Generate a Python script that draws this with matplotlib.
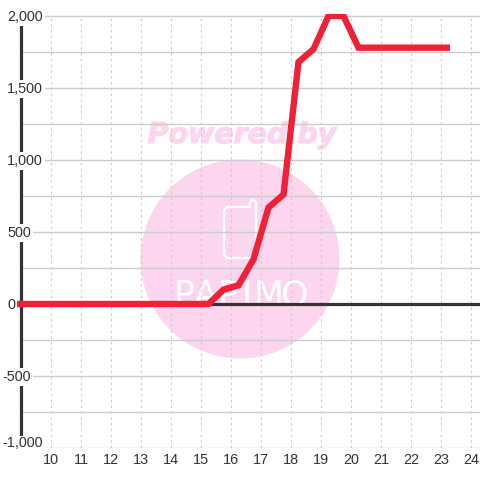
import numpy as np
import matplotlib
matplotlib.use("Agg")
import matplotlib.pyplot as plt
from matplotlib.patches import Circle, PathPatch
from matplotlib.path import Path
import matplotlib.patheffects as pe
from matplotlib.transforms import blended_transform_factory

# values
hours = [8.87, 15.25, 15.75, 16.25, 16.75, 17.25, 17.75, 18.25, 18.75, 19.25, 19.75, 20.25, 21.25, 22.25, 23.3]
values = [0, 0, 100, 130, 310, 670, 760, 1680, 1770, 2000, 2000, 1780, 1780, 1780, 1780]
x_ticks = list(range(10, 25))
y_major = [-1000, -500, 0, 500, 1000, 1500, 2000]
y_minor = [-750, -250, 250, 750, 1250, 1750]
y_labels = ["-1,000", "-500", "0", "500", "1,000", "1,500", "2,000"]
logo_letters = ["P", "A", "P", "I", "M", "O"]
logo_x = [184, 206, 228, 247, 269, 295]

plt.rcParams['font.family'] = ['Liberation Sans', 'DejaVu Sans']
W = 480.0
fig = plt.figure(figsize=(4.8, 4.8), dpi=100)
# axes box in pixels: left 17, right 480, top 14, bottom 448; x=9 sits at 21
ax = fig.add_axes([17 / W, (W - 448) / W, 463 / W, 434 / W])
ax.set_xlim(9 - 4 / 30, 9 + 459 / 30)
ax.set_ylim(-1000, 2000 + 2 / 0.144)
for s in ax.spines.values():
    s.set_visible(False)
ax.set_xticks([])
ax.set_yticks([])

# pixel overlay for the watermark
px = fig.add_axes([0, 0, 1, 1], zorder=-1)
px.set_xlim(0, W)
px.set_ylim(W, 0)
px.axis("off")
ax.patch.set_alpha(0)
pink = "#fcd5ee"
px.add_patch(Circle((240, 259), 99.5, fc=pink, ec="none"))
px.text(242, 135, "Powered by", color=pink, fontsize=20.5, fontweight="bold", fontstyle="italic",
        family="DejaVu Sans", ha="center", va="center",
        path_effects=[pe.withStroke(linewidth=0.8, foreground=pink)])
phone = [(224, 210), (227, 207), (250, 207), (250, 202), (253, 200), (256, 202), (256, 255), (253, 258), (227, 258), (224, 255), (224, 210)]
px.add_patch(PathPatch(Path(phone), fc="none", ec="white", lw=1.7, joinstyle="round"))
for lx, letter in zip(logo_x, logo_letters):
    px.text(lx, 306, letter, color="white", fontsize=25, family="Liberation Sans Narrow",
            ha="center", va="baseline")

grid = "#cccccc"
for x in x_ticks:
    ax.plot([x, x], [-1000, 2000], color=grid, lw=0.8, ls=(0, (2.2, 3)), zorder=1)
for y in y_major + y_minor:
    ax.plot([9, 24.3], [y, y], color=grid, lw=1, zorder=1, solid_capstyle="butt")

# axis lines
ax.plot([9, 9], [-917, 1990], color="#333333", lw=2.3, zorder=2, solid_capstyle="butt")
ax.plot([9, 24.3], [0, 0], color="#333333", lw=2.3, zorder=2, solid_capstyle="butt")

ax.plot(hours, values, color="#f02035", lw=4.6, zorder=3, solid_joinstyle="miter", solid_capstyle="butt")

# tick labels sit on white boxes that cut the axis line
trans = blended_transform_factory(fig.transFigure, ax.transData)
for y, lab in zip(y_major, y_labels):
    left = 2 if lab.startswith("-") else 7
    yy = y - 7
    pad = 1.5
    if y == -1000:
        yy = y + 38
        pad = 0
    ax.text(left / W, yy, lab, transform=trans, color="#333333", fontsize=10.4, ha="left", va="center",
            bbox=dict(fc="white", ec="none", pad=pad), zorder=2.5, clip_on=False)
for x in x_ticks:
    fig.text((21 + (x - 9) * 30) / W, (W - 460) / W, str(x), color="#333333", fontsize=10.4, ha="center", va="center")

fig.savefig("out.png", dpi=100)
